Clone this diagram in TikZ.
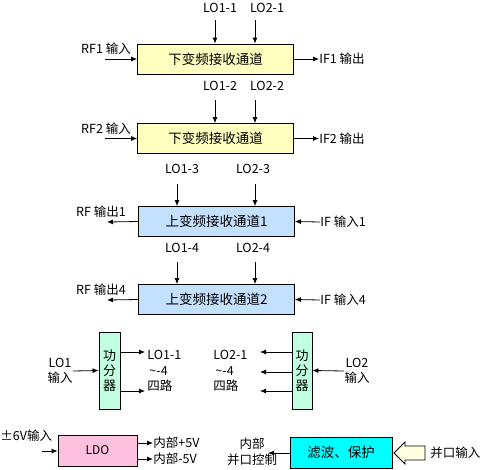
\documentclass[tikz,border=0pt]{standalone}
\usepackage{fontspec}
\setmainfont{Noto Sans CJK SC}
\usetikzlibrary{arrows.meta}

\definecolor{downfill}{HTML}{FFFFC0}
\definecolor{upfill}{HTML}{C4E0FF}
\definecolor{splitfill}{HTML}{C0FFE0}
\definecolor{ldofill}{HTML}{FFC0E0}
\definecolor{filtfill}{HTML}{00FFFF}
\definecolor{portfill}{HTML}{FFFFE0}

\begin{document}
\begin{tikzpicture}[x=1pt, y=-1pt, line width=0.8pt,
    >={Latex[length=6pt,width=5pt]},
    chanbox/.style={draw, minimum width=156pt, minimum height=30pt, inner sep=0pt,
      font=\fontsize{13.5}{14}\selectfont},
    splitbox/.style={draw, fill=splitfill, minimum width=21pt, minimum height=77pt,
      inner sep=0pt, align=center, font=\fontsize{13}{15}\selectfont},
    lbl/.style={inner sep=0pt, font=\fontsize{12.5}{15.5}\selectfont}]
    \useasboundingbox (0,0) rectangle (487,469);

    % Down-conversion channels
    \node[chanbox, fill=downfill] (down1) at (215.5,59) {下变频接收通道};
    \node[chanbox, fill=downfill] (down2) at (215.5,138.5) {下变频接收通道};

    % Up-conversion channels
    \node[chanbox, fill=upfill] (up1) at (216.5,221.5) {上变频接收通道1};
    \node[chanbox, fill=upfill] (up2) at (216.5,299.5) {上变频接收通道2};

    % LO labels
    \node[lbl] (lo11) at (220,8) {LO1-1};
    \node[lbl] (lo21) at (267,8) {LO2-1};
    \node[lbl] (lo12) at (220,86) {LO1-2};
    \node[lbl] (lo22) at (267,86) {LO2-2};
    \node[lbl] (lo13) at (182,169) {LO1-3};
    \node[lbl] (lo23) at (253,169) {LO2-3};
    \node[lbl] (lo14) at (182,248) {LO1-4};
    \node[lbl] (lo24) at (253,248) {LO2-4};

    % LO arrow starts
    \coordinate (a11) at (215,20);
    \coordinate (a21) at (255,20);
    \coordinate (a12) at (215,100);
    \coordinate (a22) at (255,100);
    \coordinate (a13) at (177,184);
    \coordinate (a23) at (255,184);
    \coordinate (a14) at (177,262);
    \coordinate (a24) at (255,262);

    \draw[->] (a11) -- (a11 |- down1.north);
    \draw[->] (a21) -- (a21 |- down1.north);
    \draw[->] (a12) -- (a12 |- down2.north);
    \draw[->] (a22) -- (a22 |- down2.north);
    \draw[->] (a13) -- (a13 |- up1.north);
    \draw[->] (a23) -- (a23 |- up1.north);
    \draw[->] (a14) -- (a14 |- up2.north);
    \draw[->] (a24) -- (a24 |- up2.north);

    % RF inputs and IF outputs
    \node[lbl] (rf1lbl) at (106,49) {RF1 输入};
    \node[lbl] (rf2lbl) at (106,129) {RF2 输入};
    \coordinate (rf1) at (105,59);
    \coordinate (rf2) at (105,138.5);
    \draw[->] (rf1) -- (down1.west);
    \draw[->] (rf2) -- (down2.west);

    \node[lbl, anchor=west] (if1out) at (319,59) {IF1 输出};
    \node[lbl, anchor=west] (if2out) at (319,138.5) {IF2 输出};
    \draw[->] (down1.east) -- (if1out.west);
    \draw[->] (down2.east) -- (if2out.west);

    % RF outputs and IF inputs
    \node[lbl] (rfo1lbl) at (101,212) {RF 输出1};
    \node[lbl] (rfo4lbl) at (101,290) {RF 输出4};
    \coordinate (rfo1) at (107,222);
    \coordinate (rfo4) at (107,300);
    \draw[->] (up1.west) -- (rfo1);
    \draw[->] (up2.west) -- (rfo4);

    \node[lbl, anchor=west] (ifi1) at (320,222) {IF 输入1};
    \node[lbl, anchor=west] (ifi4) at (320,300) {IF 输入4};
    \draw[->] (ifi1.west) -- (up1.east);
    \draw[->] (ifi4.west) -- (up2.east);

    % Power splitters
    \node[splitbox] (spl1) at (109.5,370.5) {功\\分\\器};
    \node[splitbox, minimum width=20pt] (spl2) at (302,370.5) {功\\分\\器};

    \node[lbl, align=center] (lo1in) at (60,371) {LO1\\输入};
    \node[lbl, align=center] (lo2in) at (357,371) {LO2\\输入};
    \draw[->] (lo1in.east) -- (spl1.west);
    \draw[->] (lo2in.west) -- (spl2.east);

    \coordinate (o11) at (145,352);
    \coordinate (o12) at (145,391);
    \draw[->] (o11 -| spl1.east) -- (o11);
    \draw[->] (o12 -| spl1.east) -- (o12);

    \coordinate (o21) at (260,352);
    \coordinate (o22) at (260,372);
    \coordinate (o23) at (260,391);
    \draw[->] (o21 -| spl2.west) -- (o21);
    \draw[->] (o22 -| spl2.west) -- (o22);
    \draw[->] (o23 -| spl2.west) -- (o23);

    \node[lbl, align=left, anchor=west] (lo1out) at (147,371) {LO1-1\\\,\textasciitilde-4\\四路};
    \node[lbl, align=left, anchor=west] (lo2out) at (213,371) {LO2-1\\\,\textasciitilde-4\\四路};

    % LDO
    \node[draw, fill=ldofill, minimum width=79pt, minimum height=31pt, inner sep=0pt,
      font=\fontsize{12}{14}\selectfont] (ldo) at (97.5,450.5) {LDO};
    \node[lbl, anchor=west] (pwrin) at (0,436) {±6V输入};
    \coordinate (pin) at (42,451);
    \draw[->] (pin) -- (pin -| ldo.west);

    \node[lbl, anchor=west] (p5) at (153,443) {内部+5V};
    \node[lbl, anchor=west] (m5) at (153,459) {内部-5V};
    \draw[->] (p5.west -| ldo.east) -- (p5.west);
    \draw[->] (m5.west -| ldo.east) -- (m5.west);

    % Filter and protection
    \node[draw, fill=filtfill, minimum width=102pt, minimum height=31pt, inner sep=0pt,
      font=\fontsize{13.5}{14}\selectfont] (filt) at (341,452.5) {滤波、保护};
    \node[lbl, align=center] (ctrl) at (252,452) {内部\\并口控制};
    \coordinate (ctl) at (268,453);
    \draw[->] (filt.west |- ctl) -- (ctl);

    % Parallel port input (hollow arrow)
    \draw[fill=portfill] (394,453) -- (405,442) -- (405,446) -- (425,446)
      -- (425,460) -- (405,460) -- (405,464) -- cycle;
    \node[lbl, anchor=west] (portin) at (430,453) {并口输入};
\end{tikzpicture}
\end{document}
